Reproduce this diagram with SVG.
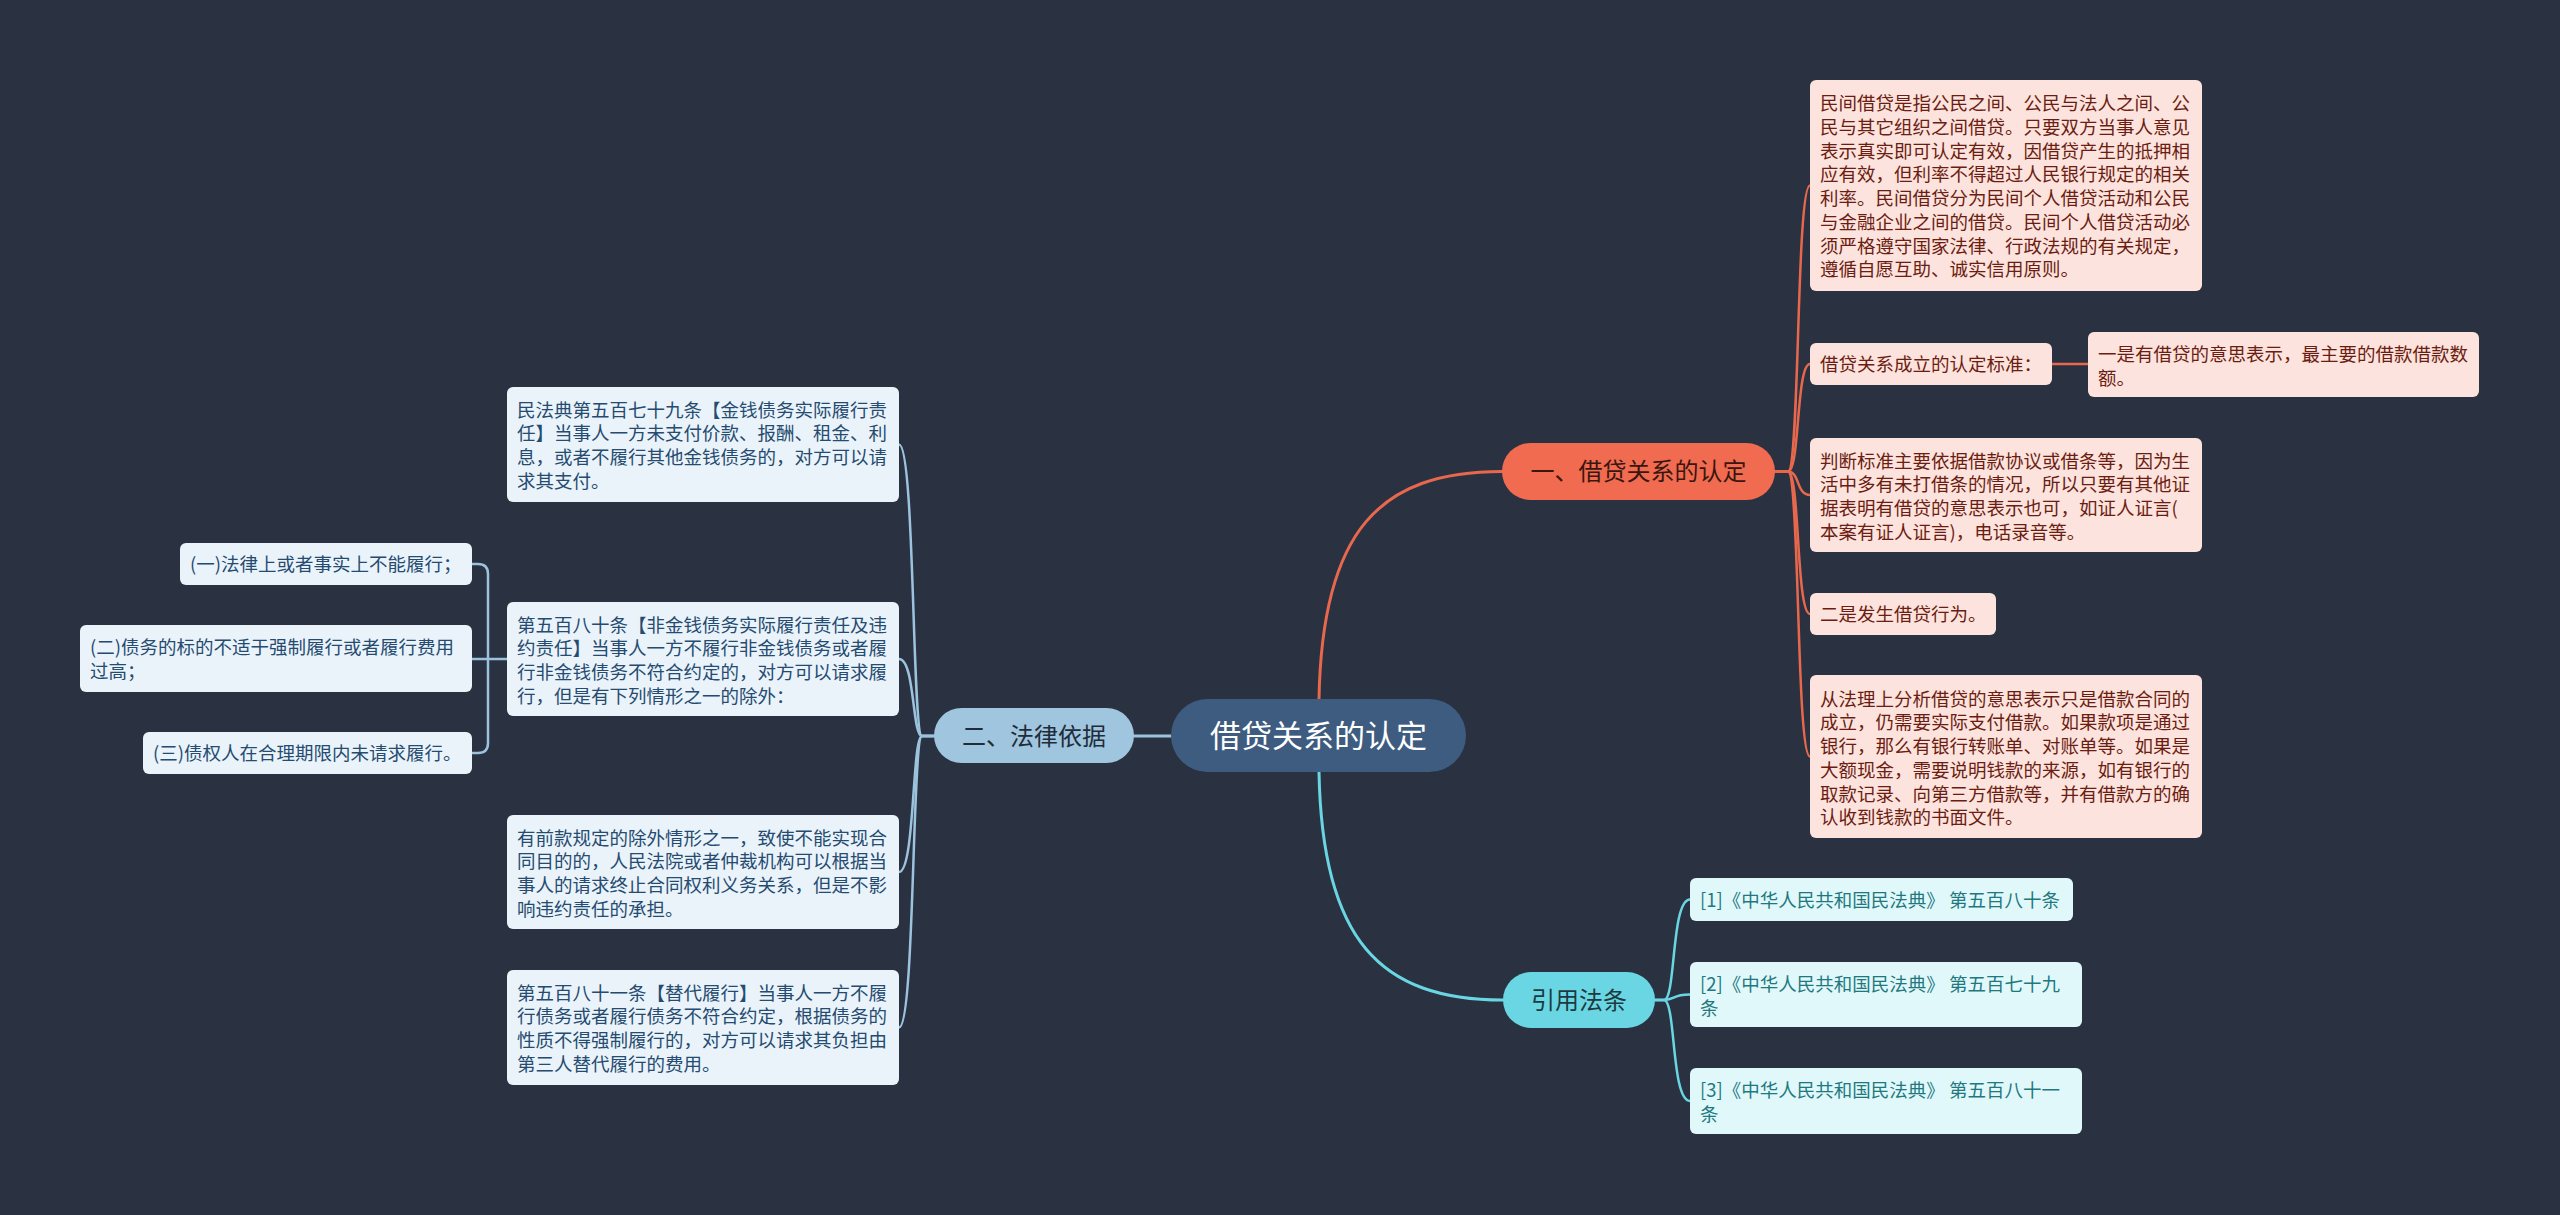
<svg xmlns="http://www.w3.org/2000/svg" width="2560" height="1215" viewBox="0 0 2560 1215">
<style>
text{font-family:"Noto Sans CJK SC","Noto Sans",sans-serif}
.c{fill:none;stroke-linecap:round}
.o{stroke:#e8684e}
.b{stroke:#9cc3dd}
.t{stroke:#6ad6e3}
.ob{fill:#fde3dd}
.ot{fill:#6b1d12;font-size:18.5px}
.lb{fill:#eaf3fa}
.lt{fill:#254b70;font-size:18.5px}
.cb{fill:#e0f8fa}
.ct{fill:#1f7880;font-size:18.5px}
.mid{text-anchor:middle}
</style>
<rect x="0" y="0" width="2560" height="1215" fill="#2a3141"/>
<g id="connectors">
<path class="c o" stroke-width="3" d="M1319,699 C1322,530 1380,471.5 1502,471.5"/>
<path class="c b" stroke-width="3" d="M1171,736 H1134"/>
<path class="c t" stroke-width="3" d="M1319,772 C1322,940 1380,1000 1503,1000"/>
<g stroke-width="2.5">
<path class="c o" d="M1775,471.5 H1788 C1800,471.5 1796,185.5 1810,185.5"/>
<path class="c o" d="M1775,471.5 H1788 C1800,471.5 1796,364 1810,364"/>
<path class="c o" d="M1775,471.5 H1788 C1800,471.5 1796,495 1810,495"/>
<path class="c o" d="M1775,471.5 H1788 C1800,471.5 1796,614 1810,614"/>
<path class="c o" d="M1775,471.5 H1788 C1800,471.5 1796,756.5 1810,756.5"/>
<path class="c o" d="M2052,364 H2088"/>
<path class="c b" d="M934,736 H922 C912,736 915,444.5 899,444.5"/>
<path class="c b" d="M934,736 H922 C912,736 915,659 899,659"/>
<path class="c b" d="M934,736 H922 C912,736 915,872 899,872"/>
<path class="c b" d="M934,736 H922 C912,736 915,1027.5 899,1027.5"/>
<path class="c b" d="M507,659 H472"/>
<path class="c b" d="M488,659 V574 Q488,564 478,564 H472"/>
<path class="c b" d="M488,659 V743 Q488,753 478,753 H472"/>
<path class="c t" d="M1655,1000 H1664 C1676,1000 1671,899.5 1690,899.5"/>
<path class="c t" d="M1655,1000 H1664 C1676,1000 1671,994.5 1690,994.5"/>
<path class="c t" d="M1655,1000 H1664 C1676,1000 1671,1101 1690,1101"/>
</g>
</g>
<g id="root">
<rect x="1171" y="699" width="295" height="73" rx="36.5" fill="#3e5c80"/>
<text class="mid" x="1318.5" y="747" font-size="31" fill="#ffffff">借贷关系的认定</text>
</g>
<g id="branch1">
<rect x="1502" y="443" width="273" height="57" rx="28.5" fill="#f06b4f"/>
<text class="mid" x="1638.5" y="480" font-size="24" fill="#3b1610">一、借贷关系的认定</text>
</g>
<g id="branch2">
<rect x="934" y="708" width="200" height="55" rx="27.5" fill="#9fc5df"/>
<text class="mid" x="1034" y="744.5" font-size="24" fill="#1f2d3a">二、法律依据</text>
</g>
<g id="branch3">
<rect x="1503" y="972" width="152" height="56" rx="28" fill="#6ad6e3"/>
<text class="mid" x="1579" y="1009" font-size="24" fill="#1c3b40">引用法条</text>
</g>
<g id="nodeA">
<rect class="ob" x="1810" y="80" width="392" height="211" rx="6"/>
<text class="ot" x="1820" y="110">民间借贷是指公民之间、公民与法人之间、公</text>
<text class="ot" x="1820" y="133.75">民与其它组织之间借贷。只要双方当事人意见</text>
<text class="ot" x="1820" y="157.5">表示真实即可认定有效，因借贷产生的抵押相</text>
<text class="ot" x="1820" y="181.25">应有效，但利率不得超过人民银行规定的相关</text>
<text class="ot" x="1820" y="205">利率。民间借贷分为民间个人借贷活动和公民</text>
<text class="ot" x="1820" y="228.75">与金融企业之间的借贷。民间个人借贷活动必</text>
<text class="ot" x="1820" y="252.5">须严格遵守国家法律、行政法规的有关规定，</text>
<text class="ot" x="1820" y="276.25">遵循自愿互助、诚实信用原则。</text>
</g>
<g id="nodeB">
<rect class="ob" x="1810" y="343" width="242" height="42" rx="6"/>
<text class="ot" x="1820" y="371">借贷关系成立的认定标准：</text>
</g>
<g id="nodeC">
<rect class="ob" x="2088" y="332" width="391" height="65" rx="6"/>
<text class="ot" x="2098" y="361">一是有借贷的意思表示，最主要的借款借款数</text>
<text class="ot" x="2098" y="384.75">额。</text>
</g>
<g id="nodeD">
<rect class="ob" x="1810" y="438" width="392" height="114" rx="6"/>
<text class="ot" x="1820" y="467.5">判断标准主要依据借款协议或借条等，因为生</text>
<text class="ot" x="1820" y="491.25">活中多有未打借条的情况，所以只要有其他证</text>
<text class="ot" x="1820" y="515">据表明有借贷的意思表示也可，如证人证言(</text>
<text class="ot" x="1820" y="538.75">本案有证人证言)，电话录音等。</text>
</g>
<g id="nodeE">
<rect class="ob" x="1810" y="593" width="186" height="42" rx="6"/>
<text class="ot" x="1820" y="621">二是发生借贷行为。</text>
</g>
<g id="nodeF">
<rect class="ob" x="1810" y="675" width="392" height="163" rx="6"/>
<text class="ot" x="1820" y="705.5">从法理上分析借贷的意思表示只是借款合同的</text>
<text class="ot" x="1820" y="729.25">成立，仍需要实际支付借款。如果款项是通过</text>
<text class="ot" x="1820" y="753">银行，那么有银行转账单、对账单等。如果是</text>
<text class="ot" x="1820" y="776.75">大额现金，需要说明钱款的来源，如有银行的</text>
<text class="ot" x="1820" y="800.5">取款记录、向第三方借款等，并有借款方的确</text>
<text class="ot" x="1820" y="824.25">认收到钱款的书面文件。</text>
</g>
<g id="nodeL1">
<rect class="lb" x="507" y="387" width="392" height="115" rx="6"/>
<text class="lt" x="517" y="416.5">民法典第五百七十九条【金钱债务实际履行责</text>
<text class="lt" x="517" y="440.25">任】当事人一方未支付价款、报酬、租金、利</text>
<text class="lt" x="517" y="464">息，或者不履行其他金钱债务的，对方可以请</text>
<text class="lt" x="517" y="487.75">求其支付。</text>
</g>
<g id="nodeL2">
<rect class="lb" x="507" y="602" width="392" height="114" rx="6"/>
<text class="lt" x="517" y="631.5">第五百八十条【非金钱债务实际履行责任及违</text>
<text class="lt" x="517" y="655.25">约责任】当事人一方不履行非金钱债务或者履</text>
<text class="lt" x="517" y="679">行非金钱债务不符合约定的，对方可以请求履</text>
<text class="lt" x="517" y="702.75">行，但是有下列情形之一的除外：</text>
</g>
<g id="nodeL3">
<rect class="lb" x="507" y="815" width="392" height="114" rx="6"/>
<text class="lt" x="517" y="844.5">有前款规定的除外情形之一，致使不能实现合</text>
<text class="lt" x="517" y="868.25">同目的的，人民法院或者仲裁机构可以根据当</text>
<text class="lt" x="517" y="892">事人的请求终止合同权利义务关系，但是不影</text>
<text class="lt" x="517" y="915.75">响违约责任的承担。</text>
</g>
<g id="nodeL4">
<rect class="lb" x="507" y="970" width="392" height="115" rx="6"/>
<text class="lt" x="517" y="999.5">第五百八十一条【替代履行】当事人一方不履</text>
<text class="lt" x="517" y="1023.25">行债务或者履行债务不符合约定，根据债务的</text>
<text class="lt" x="517" y="1047">性质不得强制履行的，对方可以请求其负担由</text>
<text class="lt" x="517" y="1070.75">第三人替代履行的费用。</text>
</g>
<g id="nodeS1">
<rect class="lb" x="180" y="543" width="292" height="42" rx="6"/>
<text class="lt" x="190" y="571">(一)法律上或者事实上不能履行；</text>
</g>
<g id="nodeS2">
<rect class="lb" x="80" y="625" width="392" height="67" rx="6"/>
<text class="lt" x="90" y="654">(二)债务的标的不适于强制履行或者履行费用</text>
<text class="lt" x="90" y="677.75">过高；</text>
</g>
<g id="nodeS3">
<rect class="lb" x="143" y="732" width="329" height="42" rx="6"/>
<text class="lt" x="153" y="760">(三)债权人在合理期限内未请求履行。</text>
</g>
<g id="nodeR1">
<rect class="cb" x="1690" y="878" width="383" height="43" rx="6"/>
<text class="ct" x="1700" y="906.5">[1]《中华人民共和国民法典》 第五百八十条</text>
</g>
<g id="nodeR2">
<rect class="cb" x="1690" y="962" width="392" height="65" rx="6"/>
<text class="ct" x="1700" y="991">[2]《中华人民共和国民法典》 第五百七十九</text>
<text class="ct" x="1700" y="1014.75">条</text>
</g>
<g id="nodeR3">
<rect class="cb" x="1690" y="1068" width="392" height="66" rx="6"/>
<text class="ct" x="1700" y="1097">[3]《中华人民共和国民法典》 第五百八十一</text>
<text class="ct" x="1700" y="1120.75">条</text>
</g>
</svg>
